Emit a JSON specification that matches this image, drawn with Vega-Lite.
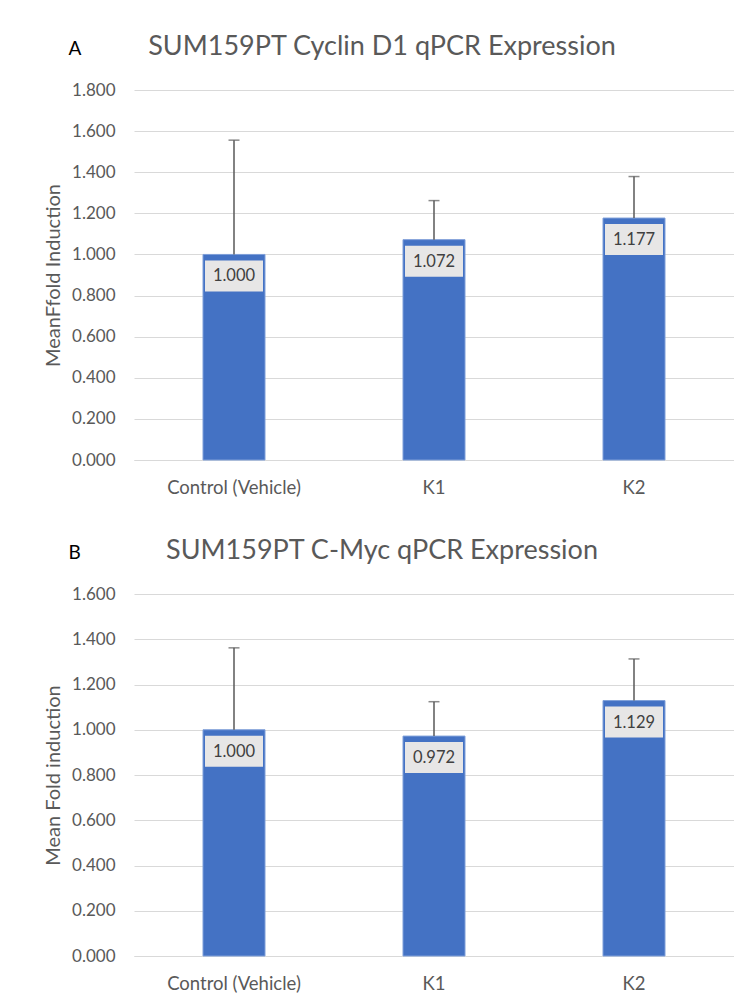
{
  "$schema": "https://vega.github.io/schema/vega-lite/v6.json",
  "background": "white",
  "padding": {"left": 43, "top": 33, "right": 0, "bottom": 0},
  "spacing": 40,
  "config": {
    "font": "Lato",
    "view": {"stroke": null},
    "axis": {"labelColor": "#595959", "titleColor": "#595959", "titleFontWeight": "normal", "gridColor": "#d9d9d9", "gridWidth": 1.2, "domainColor": "#d9d9d9", "ticks": false},
    "title": {"color": "#595959", "fontWeight": "normal", "fontSize": 27}
  },
  "datasets": {
    "a": [
      {"group": "Control (Vehicle)", "value": 1.000, "err": 0.556},
      {"group": "K1", "value": 1.072, "err": 0.190},
      {"group": "K2", "value": 1.177, "err": 0.202}
    ],
    "b": [
      {"group": "Control (Vehicle)", "value": 1.000, "err": 0.362},
      {"group": "K1", "value": 0.972, "err": 0.152},
      {"group": "K2", "value": 1.129, "err": 0.184}
    ]
  },
  "vconcat": [
    {
      "title": {"text": "A", "anchor": "start", "fontSize": 19, "color": "#000000", "dx": 25, "offset": -26},
      "vconcat": [
        {
          "title": {"text": "SUM159PT Cyclin D1 qPCR Expression", "anchor": "middle", "offset": 20, "dx": -52},
          "width": 600,
          "height": 370,
          "data": {"name": "a"},
          "encoding": {
            "x": {"field": "group", "type": "nominal", "sort": null, "title": null,
                  "scale": {"paddingInner": 0.69, "paddingOuter": 0.345},
                  "axis": {"labelAngle": 0, "labelFontSize": 18.5, "labelPadding": 18, "domain": true, "grid": false}}
          },
          "layer": [
            {
              "mark": {"type": "bar", "color": "#4472C4", "stroke": "#7f9fd9", "strokeWidth": 1},
              "encoding": {
                "y": {"field": "value", "type": "quantitative", "title": "MeanFfold Induction",
                      "scale": {"domain": [0, 1.8], "nice": false},
                      "axis": {"values": [0, 0.2, 0.4, 0.6, 0.8, 1.0, 1.2, 1.4, 1.6, 1.8], "format": ".3f", "labelFontSize": 17, "labelPadding": 19, "titleFontSize": 20, "titlePadding": 8, "domain": false, "grid": true}}
              }
            },
            {
              "mark": {"type": "rule", "color": "#595959", "strokeWidth": 1.5},
              "encoding": {
                "y": {"field": "value", "type": "quantitative"},
                "y2": {"field": "upper"}
              },
              "transform": [{"calculate": "datum.value + datum.err", "as": "upper"}]
            },
            {
              "mark": {"type": "tick", "color": "#595959", "thickness": 1.5, "size": 11},
              "encoding": {
                "y": {"field": "upper", "type": "quantitative"}
              },
              "transform": [{"calculate": "datum.value + datum.err", "as": "upper"}]
            },
            {
              "mark": {"type": "bar", "color": "#e7e6e6", "size": 58, "yOffset": 6, "y2Offset": 37},
              "encoding": {
                "y": {"field": "value", "type": "quantitative"},
                "y2": {"field": "value"}
              }
            },
            {
              "mark": {"type": "text", "color": "#404040", "fontSize": 16.5, "baseline": "middle", "dy": 22},
              "encoding": {
                "y": {"field": "value", "type": "quantitative"},
                "text": {"field": "value", "type": "quantitative", "format": ".3f"}
              }
            }
          ]
        }
      ]
    },
    {
      "title": {"text": "B", "anchor": "start", "fontSize": 19, "color": "#000000", "dx": 25, "offset": -26},
      "vconcat": [
        {
          "title": {"text": "SUM159PT C-Myc qPCR Expression", "anchor": "middle", "offset": 20, "dx": -52},
          "width": 600,
          "height": 362,
          "data": {"name": "b"},
          "encoding": {
            "x": {"field": "group", "type": "nominal", "sort": null, "title": null,
                  "scale": {"paddingInner": 0.69, "paddingOuter": 0.345},
                  "axis": {"labelAngle": 0, "labelFontSize": 18.5, "labelPadding": 18, "domain": true, "grid": false}}
          },
          "layer": [
            {
              "mark": {"type": "bar", "color": "#4472C4", "stroke": "#7f9fd9", "strokeWidth": 1},
              "encoding": {
                "y": {"field": "value", "type": "quantitative", "title": "Mean Fold induction",
                      "scale": {"domain": [0, 1.6], "nice": false},
                      "axis": {"values": [0, 0.2, 0.4, 0.6, 0.8, 1.0, 1.2, 1.4, 1.6], "format": ".3f", "labelFontSize": 17, "labelPadding": 19, "titleFontSize": 20, "titlePadding": 8, "domain": false, "grid": true}}
              }
            },
            {
              "mark": {"type": "rule", "color": "#595959", "strokeWidth": 1.5},
              "encoding": {
                "y": {"field": "value", "type": "quantitative"},
                "y2": {"field": "upper"}
              },
              "transform": [{"calculate": "datum.value + datum.err", "as": "upper"}]
            },
            {
              "mark": {"type": "tick", "color": "#595959", "thickness": 1.5, "size": 11},
              "encoding": {
                "y": {"field": "upper", "type": "quantitative"}
              },
              "transform": [{"calculate": "datum.value + datum.err", "as": "upper"}]
            },
            {
              "mark": {"type": "bar", "color": "#e7e6e6", "size": 58, "yOffset": 6, "y2Offset": 37},
              "encoding": {
                "y": {"field": "value", "type": "quantitative"},
                "y2": {"field": "value"}
              }
            },
            {
              "mark": {"type": "text", "color": "#404040", "fontSize": 16.5, "baseline": "middle", "dy": 22},
              "encoding": {
                "y": {"field": "value", "type": "quantitative"},
                "text": {"field": "value", "type": "quantitative", "format": ".3f"}
              }
            }
          ]
        }
      ]
    }
  ]
}
